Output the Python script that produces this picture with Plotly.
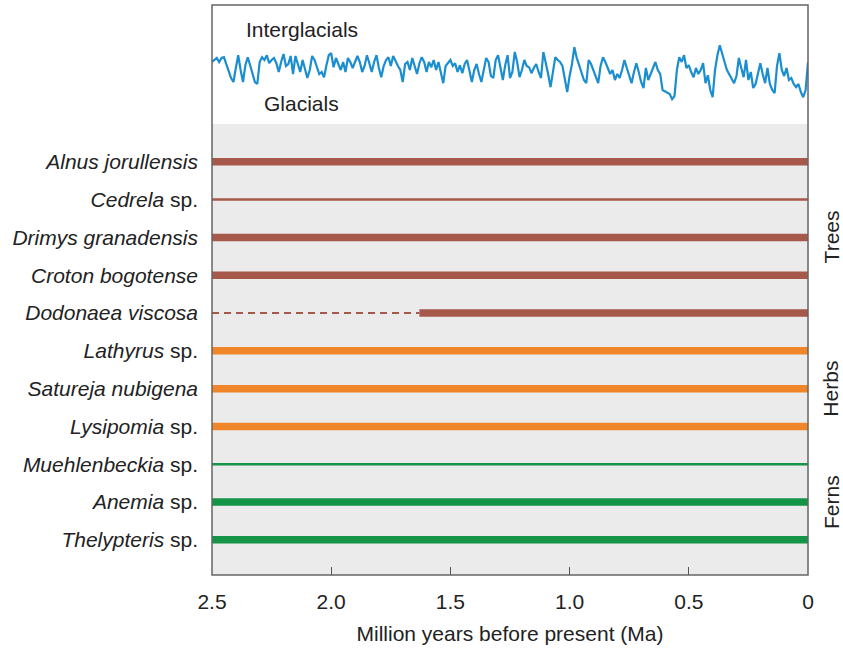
import numpy as np
import plotly.graph_objects as go

# ---------------- data ----------------
species = [
    "<i>Alnus jorullensis</i>", "<i>Cedrela</i> sp.", "<i>Drimys granadensis</i>",
    "<i>Croton bogotense</i>", "<i>Dodonaea viscosa</i>", "<i>Lathyrus</i> sp.",
    "<i>Satureja nubigena</i>", "<i>Lysipomia</i> sp.", "<i>Muehlenbeckia</i> sp.",
    "<i>Anemia</i> sp.", "<i>Thelypteris</i> sp.",
]
group = ["Trees", "Trees", "Trees", "Trees", "Trees",
         "Herbs", "Herbs", "Herbs",
         "Ferns", "Ferns", "Ferns"]
oldest_age = [2.5, 2.5, 2.5, 2.5, 2.5, 2.5, 2.5, 2.5, 2.5, 2.5, 2.5]      # Ma
youngest_age = [0.0, 0.0, 0.0, 0.0, 0.0, 0.0, 0.0, 0.0, 0.0, 0.0, 0.0]    # Ma
confirmed_from = [2.5, 2.5, 2.5, 2.5, 1.63, 2.5, 2.5, 2.5, 2.5, 2.5, 2.5]  # older part uncertain
record = ["strong", "weak", "strong", "strong", "strong", "strong",
          "strong", "strong", "weak", "strong", "strong"]

# climate curve (benthic d18O-like proxy, sampled every 10 kyr from 2.5 Ma to present)
curve_age = np.linspace(2.5, 0.0, 251)
d18o = [
    3.30, 3.25, 3.20, 3.30, 3.20, 3.18, 3.33, 3.53, 3.70, 3.80,
    3.45, 3.13, 3.50, 3.80, 3.38, 3.18, 3.38, 3.60, 3.80, 3.85,
    3.30, 3.18, 3.25, 3.13, 3.33, 3.25, 3.20, 3.33, 3.55, 3.30,
    3.10, 3.40, 3.35, 3.15, 3.60, 3.15, 3.35, 3.55, 3.25, 3.50,
    3.70, 3.50, 3.15, 3.25, 3.40, 3.60, 3.55, 3.68, 3.38, 3.13,
    3.08, 3.43, 3.20, 3.35, 3.50, 3.30, 3.55, 3.20, 3.30, 3.45,
    3.30, 3.15, 3.30, 3.55, 3.40, 3.13, 3.33, 3.55, 3.30, 3.13,
    3.45, 3.68, 3.40, 3.25, 3.18, 3.40, 3.15, 3.30, 3.40, 3.50,
    3.80, 3.35, 3.30, 3.50, 3.20, 3.40, 3.60, 3.33, 3.18, 3.30,
    3.55, 3.30, 3.43, 3.25, 3.50, 3.30, 3.60, 3.83, 3.40, 3.33,
    3.25, 3.40, 3.33, 3.55, 3.38, 3.58, 3.35, 3.25, 3.55, 3.80,
    3.50, 3.35, 3.60, 3.80, 3.50, 3.20, 3.30, 3.65, 3.70, 3.25,
    3.13, 3.45, 3.75, 3.38, 3.13, 3.70, 3.55, 3.05, 3.30, 3.68,
    3.50, 3.25, 3.40, 3.43, 3.58, 3.45, 3.35, 3.55, 3.70, 3.05,
    3.30, 3.60, 3.93, 3.55, 3.18, 3.25, 3.30, 3.40, 3.70, 4.05,
    3.65, 3.35, 2.93, 3.20, 3.38, 3.55, 3.75, 3.83, 3.25, 3.35,
    3.50, 3.65, 3.83, 3.40, 3.18, 3.30, 3.45, 3.60, 3.50, 3.75,
    3.60, 3.70, 3.50, 3.25, 3.45, 3.65, 3.83, 3.55, 3.33, 3.55,
    3.80, 3.95, 3.45, 3.75, 3.60, 3.40, 3.30, 3.50, 3.60, 4.00,
    4.03, 4.05, 4.10, 4.23, 4.15, 3.50, 3.18, 3.30, 3.13, 3.45,
    3.38, 3.55, 3.68, 3.45, 3.60, 3.50, 3.33, 3.83, 3.63, 4.00,
    4.18, 3.50, 3.13, 2.88, 3.13, 3.30, 3.50, 3.60, 3.70, 3.83,
    3.65, 3.20, 3.45, 3.68, 3.25, 3.75, 3.55, 3.95, 3.85, 3.55,
    3.33, 3.60, 3.83, 3.45, 3.85, 4.00, 4.08, 3.40, 3.08, 3.50,
    3.65, 3.45, 3.75, 3.70, 3.85, 3.93, 3.85, 4.05, 4.18, 4.00,
    3.30,
]

x_tick_vals = [2.5, 2.0, 1.5, 1.0, 0.5, 0.0]
x_tick_text = ["2.5", "2.0", "1.5", "1.0", "0.5", "0"]
group_names = ["Trees", "Herbs", "Ferns"]

# ---------------- styles ----------------
FONT = "Liberation Sans, Arial, sans-serif"
group_color = {"Trees": "#a6594a", "Herbs": "#f0862a", "Ferns": "#139447"}
record_width = {"strong": 7.5, "weak": 2.5}
TXT = "#222222"
FS = 21

n = len(species)
rows = list(range(n, 0, -1))  # top row first

fig = go.Figure()

# climate curve (top panel)
fig.add_trace(go.Scatter(
    x=curve_age, y=d18o, xaxis="x2", yaxis="y2", mode="lines",
    line=dict(color="#1b8ed0", width=2.2), hoverinfo="skip", showlegend=False,
))

# species ranges
for i in range(n):
    col = group_color[group[i]]
    if confirmed_from[i] < oldest_age[i]:
        fig.add_trace(go.Scatter(
            x=[oldest_age[i], confirmed_from[i]], y=[rows[i], rows[i]],
            mode="lines", line=dict(color=col, width=1.8, dash="7px,5px"),
            showlegend=False, hoverinfo="skip",
        ))
    fig.add_trace(go.Scatter(
        x=[confirmed_from[i], youngest_age[i]], y=[rows[i], rows[i]],
        mode="lines", line=dict(color=col, width=record_width[record[i]]),
        showlegend=False, hoverinfo="skip",
    ))

split = 451 / 570

shapes = [
    dict(type="rect", xref="x domain", yref="y domain", x0=0, x1=1, y0=0, y1=1,
         fillcolor="#ebebeb", line=dict(width=0), layer="below"),
    dict(type="rect", xref="paper", yref="paper", x0=0, x1=1, y0=0, y1=1,
         fillcolor="rgba(0,0,0,0)", line=dict(color="#666666", width=1.5), layer="above"),
]

annotations = [
    dict(text="Interglacials", xref="paper", yref="paper", x=0.151, y=(575 - 29) / 570,
         xanchor="center", yanchor="middle",
         showarrow=False, font=dict(family=FONT, size=FS, color=TXT)),
    dict(text="Glacials", xref="paper", yref="paper", x=0.151, y=(575 - 104) / 570,
         xanchor="center", yanchor="middle",
         showarrow=False, font=dict(family=FONT, size=FS, color=TXT)),
]
for g in group_names:
    grow = [rows[i] for i in range(n) if group[i] == g]
    annotations.append(dict(
        text=g, xref="paper", yref="y", x=1.0, xshift=23, y=sum(grow) / len(grow),
        textangle=-90, showarrow=False, xanchor="center", yanchor="middle",
        font=dict(family=FONT, size=FS, color=TXT),
    ))

fig.update_layout(
    width=843, height=652,
    margin=dict(l=212, r=35, t=5, b=77),
    paper_bgcolor="white", plot_bgcolor="white",
    font=dict(family=FONT, size=FS, color=TXT),
    showlegend=False,
    xaxis=dict(
        domain=[0, 1], anchor="y", range=[2.5, 0.0],
        tickvals=x_tick_vals, ticktext=x_tick_text,
        ticks="inside", ticklen=8, tickwidth=1.2, tickcolor="#555555",
        ticklabelstandoff=12,
        showgrid=False, zeroline=False, showline=False,
        tickfont=dict(family=FONT, size=FS, color=TXT),
        title=dict(text="Million years before present (Ma)", standoff=14,
                   font=dict(family=FONT, size=FS, color=TXT)),
    ),
    yaxis=dict(
        domain=[0, split], anchor="x", range=[0.07, 12.0],
        tickvals=rows, ticktext=species, ticks="", ticklabelstandoff=13,
        showgrid=False, zeroline=False, showline=False,
        tickfont=dict(family=FONT, size=FS, color=TXT),
    ),
    xaxis2=dict(domain=[0, 1], anchor="y2", matches="x", visible=False),
    yaxis2=dict(domain=[split, 1], anchor="x2", range=[4.85, 1.875], visible=False),
    shapes=shapes,
    annotations=annotations,
)

fig.write_html("out.html")
